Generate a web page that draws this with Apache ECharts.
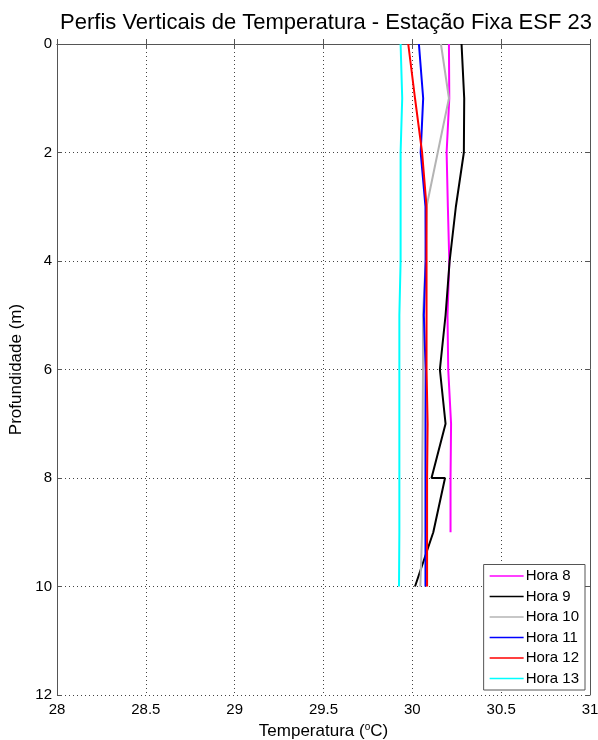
<!DOCTYPE html>
<html>
<head>
<meta charset="utf-8">
<script src="https://cdn.jsdelivr.net/npm/echarts@6/dist/echarts.min.js"></script>
<style>html,body{margin:0;padding:0;background:#fff}#c{width:598px;height:740px}</style>
</head>
<body>
<div id="c"></div>
<script>
// Depths (m) and temperatures (°C) per hour
const seriesNames = ['Hora 8', 'Hora 9', 'Hora 10', 'Hora 11', 'Hora 12', 'Hora 13'];
const depth8  = [0, 1, 2, 3, 4, 5, 6, 7, 8, 9];
const temp8   = [30.206, 30.208, 30.193, 30.200, 30.208, 30.198, 30.202, 30.218, 30.215, 30.215];
const depth9  = [0, 1, 2, 3, 4, 5, 6, 7, 8, 8, 9, 10];
const temp9   = [30.277, 30.292, 30.290, 30.245, 30.210, 30.187, 30.155, 30.187, 30.108, 30.184, 30.118, 30.015];
const depth10 = [0, 1, 2, 3, 4, 5, 6, 7, 8, 9, 10];
const temp10  = [30.161, 30.206, 30.143, 30.080, 30.075, 30.060, 30.060, 30.058, 30.055, 30.055, 30.045];
const depth11 = [0, 1, 2, 3, 4, 5, 6, 7, 8, 9, 10];
const temp11  = [30.037, 30.061, 30.047, 30.074, 30.075, 30.065, 30.075, 30.074, 30.074, 30.074, 30.074];
const depth12 = [0, 1, 2, 3, 4, 5, 6, 7, 8, 9, 10];
const temp12  = [29.977, 30.015, 30.055, 30.080, 30.080, 30.080, 30.080, 30.086, 30.083, 30.083, 30.083];
const depth13 = [0, 1, 2, 3, 4, 5, 6, 7, 8, 9, 10];
const temp13  = [29.934, 29.943, 29.934, 29.934, 29.934, 29.927, 29.927, 29.927, 29.927, 29.927, 29.925];
const colors = ['#ff00ff', '#000000', '#b4b4b4', '#0000ff', '#ff0000', '#00ffff'];

const depths = [depth8, depth9, depth10, depth11, depth12, depth13];
const temps = [temp8, temp9, temp10, temp11, temp12, temp13];

const font = 'Liberation Sans, Arial, sans-serif';
const chart = echarts.init(document.getElementById('c'));
const gridLine = { show: true, lineStyle: { color: '#444', type: [1, 3], width: 1 } };
const axisLineStyle = { show: true, lineStyle: { color: '#555', width: 1 } };

chart.setOption({
  animation: false,
  backgroundColor: '#fff',
  title: {
    text: 'Perfis Verticais de Temperatura - Estação Fixa ESF 23',
    left: 321, top: 7, textAlign: 'center',
    textStyle: { fontFamily: font, fontSize: 22, fontWeight: 'normal', color: '#000' }
  },
  grid: { left: 57, right: 8, top: 44, bottom: 45, containLabel: false, outerBoundsMode: 'none' },
  legend: {
    orient: 'vertical', right: 13, bottom: 50,
    data: seriesNames,
    icon: 'rect', itemWidth: 34, itemHeight: 1.5, itemGap: 5.5,
    padding: [4, 6, 4, 6],
    borderColor: '#555', borderWidth: 1, backgroundColor: '#fff',
    textStyle: { fontFamily: font, fontSize: 15, color: '#000', padding: [0, 0, 0, -3] }
  },
  xAxis: [{
    type: 'value', min: 28, max: 31, interval: 0.5,
    name: 'Temperatura ({s|o}C)', nameLocation: 'middle', nameGap: 26,
    nameTextStyle: { fontFamily: font, fontSize: 17, color: '#000',
      rich: { s: { fontSize: 10, verticalAlign: 'top', padding: [0, 0, 8, 0], fontFamily: font, color: '#000' } } },
    axisLine: axisLineStyle,
    axisTick: { show: true, inside: true, length: 5, lineStyle: { color: '#555' } },
    axisLabel: { fontFamily: font, fontSize: 15, color: '#000', margin: 7 },
    splitLine: gridLine
  }, {
    type: 'value', min: 28, max: 31, interval: 0.5, position: 'top',
    axisLine: axisLineStyle,
    axisTick: { show: true, inside: true, length: 5, lineStyle: { color: '#555' } },
    axisLabel: { show: false }, splitLine: { show: false }
  }],
  yAxis: [{
    type: 'value', inverse: true, min: 0, max: 12, interval: 2,
    name: 'Profundidade (m)', nameLocation: 'middle', nameGap: 18, nameRotate: 90,
    nameTextStyle: { fontFamily: font, fontSize: 17, color: '#000' },
    axisLine: axisLineStyle,
    axisTick: { show: true, inside: true, length: 5, lineStyle: { color: '#555' } },
    axisLabel: { fontFamily: font, fontSize: 15, color: '#000', margin: 5 },
    splitLine: gridLine
  }, {
    type: 'value', inverse: true, min: 0, max: 12, interval: 2, position: 'right',
    axisLine: axisLineStyle,
    axisTick: { show: true, inside: true, length: 5, lineStyle: { color: '#555' } },
    axisLabel: { show: false }, splitLine: { show: false }
  }],
  series: seriesNames.map((n, i) => ({
    name: n, type: 'line', symbol: 'none',
    xAxisIndex: 0, yAxisIndex: 0,
    color: colors[i],
    lineStyle: { color: colors[i], width: 2 },
    data: temps[i].map((t, k) => [t, depths[i][k]])
  }))
});
</script>
</body>
</html>
